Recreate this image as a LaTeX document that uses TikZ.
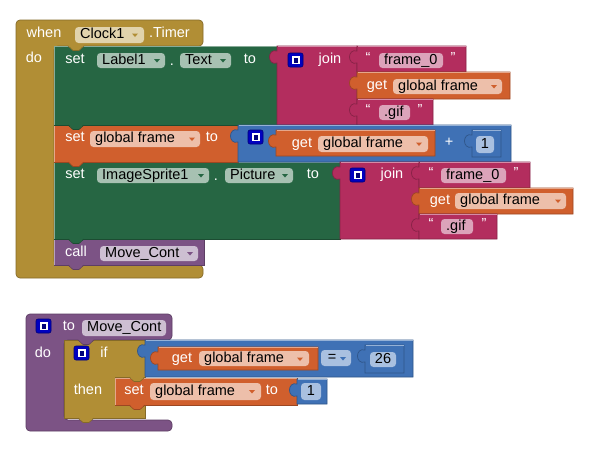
\documentclass[tikz,border=0pt]{standalone}
\usepackage{fontspec}
\setmainfont{Liberation Sans}
\definecolor{evY}{HTML}{B18E35}
\definecolor{setG}{HTML}{266643}
\definecolor{txtP}{HTML}{B32D5E}
\definecolor{varO}{HTML}{D05F2D}
\definecolor{mathB}{HTML}{3F71B5}
\definecolor{procP}{HTML}{7C5385}
\definecolor{pY}{HTML}{E1D3AC}
\definecolor{pG}{HTML}{A7C1B2}
\definecolor{pO}{HTML}{EDBFAA}
\definecolor{pP}{HTML}{DCA3BA}
\definecolor{pPr}{HTML}{CDBFD2}
\definecolor{pB}{HTML}{A9C0E0}
\definecolor{mutB}{HTML}{0000C0}
\definecolor{mutN}{HTML}{000078}
\newcommand\stmtb[5]{%
  \filldraw[fill=#5, draw=#5!75!black, line width=0.7] (#1,#2) rectangle (#3,#4);
  \draw[#5!55!white, line width=0.7] ({#1+0.5},{#4}) -- ({#1+0.5},{#2+0.5}) -- (#3,{#2+0.5});}
\newcommand\valb[5]{%
  \filldraw[fill=#5, draw=#5!75!black, line width=0.7] (#1,#2) -- (#3,#2) -- (#3,#4) -- (#1,#4) -- (#1,{#2+17}) .. controls ({#1-10},{#2+20}) and ({#1-10},{#2+2}) .. (#1,{#2+5}) -- cycle;
  \draw[#5!55!white, line width=0.7] ({#1+0.5},{#2+0.5}) -- (#3,{#2+0.5});}
\newcommand\ntab[3]{%
  \fill[#3] ({#1+14},{#2-1}) -- ({#1+19},{#2+4.5}) -- ({#1+25},{#2+4.5}) -- ({#1+30},{#2-1}) -- cycle;
  \draw[#3!75!black, line width=0.6] ({#1+14},{#2}) -- ({#1+19},{#2+4.5}) -- ({#1+25},{#2+4.5}) -- ({#1+30},{#2});}
\newcommand\pill[7]{%
  \fill[#6, rounded corners=3.5pt] (#2,#3) rectangle (#4,#5);
  \node[ptxt] (#1) at ({#2+5},{(#3+#5)/2}) {#7};}
\newcommand\cpill[7]{%
  \fill[#6, rounded corners=3.5pt] (#2,#3) rectangle (#4,#5);
  \node[ctxt] (#1) at ({(#2+#4)/2},{(#3+#5)/2}) {#7};}
\newcommand\darrow[3]{%
  \fill[#3] ({#1-3},{#2-1.5}) -- ({#1+3},{#2-1.5}) -- (#1,{#2+2}) -- cycle;}
\newcommand\mut[2]{%
  \filldraw[fill=mutB, draw=mutN, rounded corners=2pt, line width=0.6] (#1,#2) rectangle ({#1+15},{#2+14});
  \fill[white] ({#1+3.5},{#2+3}) rectangle ({#1+11.5},{#2+11});
  \fill[mutN] ({#1+6},{#2+4.5}) rectangle ({#1+10},{#2+9.5});}
\begin{document}
\begin{tikzpicture}[x=1pt,y=-1pt,
  font=\fontsize{14.5}{17}\selectfont,
  lbl/.style={text=white, inner sep=0pt, text height=10.5pt, text depth=3pt},
  ptxt/.style={text=black, inner sep=0pt, anchor=west, text height=10.5pt, text depth=3pt},
  ctxt/.style={text=black, inner sep=0pt, text height=10.5pt, text depth=3pt}]
\useasboundingbox (0,0) rectangle (596,448);
\fill[white] (0,0) rectangle (596,448);

% ===== event block =====
\filldraw[fill=evY, draw=evY!75!black, line width=0.7, rounded corners=4pt]
  (16,20) -- (203,20) -- (203,46) -- (54,46) -- (54,265) -- (203,265) -- (203,278) -- (16,278) -- cycle;
\node[lbl] (when) at (44,34) {when};
\pill{clock}{75}{27}{144}{43}{pY}{Clock1}
\darrow{135}{35}{evY}
\node[lbl, anchor=west] (timer) at (149,34) {.Timer};
\node[lbl] (do1) at (34,59) {do};

% statement blocks
\stmtb{54}{239}{204}{265}{procP}
\stmtb{54}{162}{340}{239}{setG}
\stmtb{54}{125}{238}{162}{varO}
\stmtb{54}{46}{277}{125}{setG}

% set Label1.Text
\node[lbl] (set1) at (75,60) {set};
\pill{label1}{97}{53}{165}{68}{pG}{Label1}
\darrow{157}{60.5}{setG}
\node[lbl] (dot1) at (172,62) {.};
\pill{text1}{180}{53}{231}{68}{pG}{Text}
\darrow{223}{60.5}{setG}
\node[lbl] (to1) at (250,60) {to};
\valb{277}{46}{357}{125}{txtP}
\mut{288}{53}
\node[lbl] (join1) at (330,60) {join};
\valb{357}{46}{466}{72}{txtP}
\node[lbl] (q1a) at (368,59) {“};
\pill{f01}{379}{53}{443}{68}{pP}{frame\_0}
\node[lbl] (q1b) at (453,59) {”};
\valb{357}{72}{510}{99}{varO}
\node[lbl] (get1) at (377,86) {get};
\pill{gf1}{393}{79}{502}{94}{pO}{global frame}
\darrow{494}{86.5}{varO}
\valb{357}{99}{433}{125}{txtP}
\node[lbl] (q2a) at (368,111) {“};
\pill{gif1}{379}{105}{410}{120}{pP}{.gif}
\node[lbl] (q2b) at (420,111) {”};

% set global frame to (+)
\node[lbl] (set2) at (75,138) {set};
\pill{gf2}{90}{131}{200}{147}{pO}{global frame}
\darrow{192}{139}{varO}
\node[lbl] (to2) at (212,138) {to};
\valb{238}{125}{511}{162}{mathB}
\mut{248}{130}
\valb{276}{130}{435}{156}{varO}
\node[lbl] (get2) at (302,144) {get};
\pill{gf3}{318}{136}{428}{152}{pO}{global frame}
\darrow{419}{144}{varO}
\node[lbl] (plus) at (449,143) {+};
\valb{472}{130}{501}{157}{mathB}
\cpill{n1}{476}{136}{494}{153}{pB}{1}

% set ImageSprite1.Picture
\node[lbl] (set3) at (75,175) {set};
\pill{img}{97}{168}{209}{183}{pG}{ImageSprite1}
\darrow{201}{175.5}{setG}
\node[lbl] (dot2) at (216,177) {.};
\pill{pic}{225}{168}{293}{183}{pG}{Picture}
\darrow{285}{175.5}{setG}
\node[lbl] (to3) at (313,175) {to};
\valb{340}{162}{419}{239}{txtP}
\mut{350}{168}
\node[lbl] (join2) at (392,175) {join};
\valb{419}{162}{530}{188}{txtP}
\node[lbl] (q3a) at (431,174) {“};
\pill{f02}{441}{168}{506}{183}{pP}{frame\_0}
\node[lbl] (q3b) at (516,174) {”};
\valb{419}{188}{573}{214}{varO}
\node[lbl] (get3) at (440,201) {get};
\pill{gf4}{455}{193}{566}{209}{pO}{global frame}
\darrow{558}{201}{varO}
\valb{419}{214}{497}{239}{txtP}
\node[lbl] (q4a) at (431,225) {“};
\pill{gif2}{441}{219}{473}{234}{pP}{.gif}
\node[lbl] (q4b) at (484,225) {”};

% call
\node[lbl] (call) at (76,253) {call};
\pill{mc1}{100}{246}{198}{261}{pPr}{Move\_Cont}
\darrow{190}{253.5}{procP}

% tabs
\ntab{54}{46}{evY}
\ntab{54}{125}{setG}
\ntab{54}{162}{varO}
\ntab{54}{239}{setG}
\ntab{54}{265}{procP}

% ===== procedure block =====
\filldraw[fill=procP, draw=procP!75!black, line width=0.7, rounded corners=4pt]
  (26,314) -- (172,314) -- (172,340) -- (64,340) -- (64,420) -- (172,420) -- (172,431) -- (26,431) -- cycle;
\mut{36}{319}
\node[lbl] (to4) at (69,327) {to};
\pill{mc2}{82}{320}{166}{336}{pPr}{Move\_Cont}
\node[lbl] (do2) at (43,354) {do};

% if block
\filldraw[fill=evY, draw=evY!75!black, line width=0.7]
  (64,340) -- (145,340) -- (145,377) -- (115,377) -- (115,405) -- (145,405) -- (145,418) -- (64,418) -- cycle;
\mut{74}{346}
\node[lbl] (if) at (104,354) {if};
\node[lbl] (then) at (88,391) {then};

% compare
\valb{145}{340}{413}{377}{mathB}
\valb{158}{347}{318}{370}{varO}
\node[lbl] (get4) at (182,359) {get};
\pill{gf5}{199}{351}{309}{366}{pO}{global frame}
\darrow{300}{359}{varO}
\fill[pB, rounded corners=3.5pt] (321,350) rectangle (351,366);
\node[ctxt] (eq) at (332,358) {=};
\darrow{343}{358.5}{mathB}
\valb{365}{345}{404}{373}{mathB}
\cpill{n26}{370}{352}{396}{367}{pB}{26}

% set global frame to 1
\stmtb{115}{378}{297}{405}{varO}
\node[lbl] (set5) at (134,391) {set};
\pill{gf6}{150}{383}{261}{400}{pO}{global frame}
\darrow{252}{391.5}{varO}
\node[lbl] (to5) at (272,391) {to};
\valb{297}{379}{327}{404}{mathB}
\cpill{n1b}{301}{383}{321}{400}{pB}{1}

% tabs
\ntab{64}{340}{procP}
\ntab{115}{377}{evY}
\ntab{115}{405}{varO}
\ntab{64}{418}{evY}
\end{tikzpicture}
\end{document}
